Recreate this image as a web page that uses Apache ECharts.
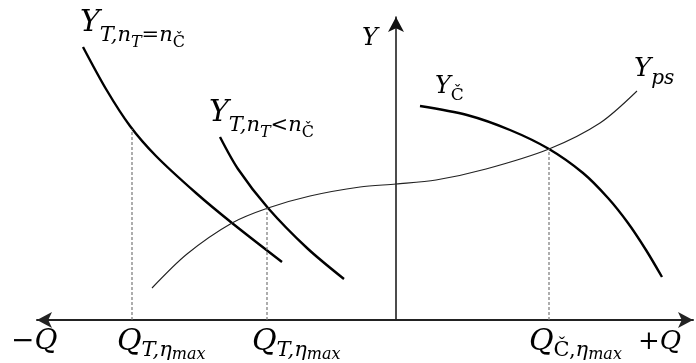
<!DOCTYPE html>
<html>
<head>
<meta charset="utf-8">
<script src="https://cdn.jsdelivr.net/npm/echarts@6/dist/echarts.min.js"></script>
<style>
html, body { margin: 0; padding: 0; background: #fff; }
#chart { width: 696px; height: 363px; }
</style>
</head>
<body>
<div id="chart"></div>
<script>
// curve points (x: flow Q, y: head Y)
var turbineSame = [[-313, 273], [-290, 231], [-266, 194], [-240, 164], [-200, 127], [-164, 97], [-114, 58]];
var turbineLow = [[-176, 183], [-158, 151], [-128, 112], [-89, 72], [-52, 41]];
var systemCurve = [[-244, 32], [-209, 66], [-164, 97], [-128, 112], [-86, 124], [-36, 133], [0, 136], [40, 140], [90, 151], [153, 171], [204, 197], [241, 229]];
var pumpCurve = [[24, 214], [71, 205], [114, 190], [153, 171], [187, 147], [212, 122], [232, 97], [250, 70], [266, 43]];
// dashed drop lines at the best efficiency points
var dropLines = [[-264, 191], [-129, 112], [153, 171]];

var chart = echarts.init(document.getElementById('chart'));

var serif = 'DejaVu Serif';
function rich(main, sub, subsub, p1, p2) {
    return {
        a: { fontFamily: serif, fontStyle: 'italic', fontSize: main, lineHeight: main, verticalAlign: 'top', color: '#000' },
        b: { fontFamily: serif, fontStyle: 'italic', fontSize: sub, lineHeight: sub, verticalAlign: 'top', padding: [p1, 0, 0, 0], color: '#000' },
        s: { fontFamily: serif, fontSize: sub, lineHeight: sub, verticalAlign: 'top', padding: [p1, 0, 0, 0], color: '#000' },
        c: { fontFamily: serif, fontStyle: 'italic', fontSize: subsub, lineHeight: subsub, verticalAlign: 'top', padding: [p2, 0, 0, 0], color: '#000' },
        u: { fontFamily: serif, fontSize: subsub, lineHeight: subsub, verticalAlign: 'top', padding: [p2, 0, 0, 0], color: '#000' }
    };
}
function label(x, y, text, main, sub, subsub, p1, p2) {
    return { type: 'text', x: x, y: y, style: { text: text, rich: rich(main, sub, subsub, p1, p2) } };
}

var series = [
    { data: turbineSame, width: 2.4, color: '#000' },
    { data: turbineLow, width: 2.4, color: '#000' },
    { data: pumpCurve, width: 2.4, color: '#000' },
    { data: systemCurve, width: 1.1, color: '#222' }
].map(function (s) {
    return {
        type: 'line', data: s.data, smooth: 0.3, symbol: 'none', silent: true,
        lineStyle: { width: s.width, color: s.color }
    };
});
dropLines.forEach(function (p) {
    series.push({
        type: 'line', data: [[p[0], 0], p], symbol: 'none', silent: true,
        lineStyle: { width: 1.2, color: '#777', type: [3, 2] }
    });
});

chart.setOption({
    animation: false,
    grid: { left: 37, right: 3, top: 17, bottom: 43 },
    xAxis: {
        type: 'value', min: -359, max: 297,
        axisLine: { onZero: true, symbol: ['arrow', 'arrow'], symbolSize: [12, 15], lineStyle: { color: '#222', width: 2 } },
        axisTick: { show: false }, axisLabel: { show: false }, splitLine: { show: false }
    },
    yAxis: {
        type: 'value', min: 0, max: 303,
        axisLine: { onZero: true, symbol: ['none', 'arrow'], symbolSize: [12, 15], lineStyle: { color: '#111', width: 1.5 } },
        axisTick: { show: false }, axisLabel: { show: false }, splitLine: { show: false }
    },
    series: series,
    graphic: [
        label(80, 8, '{a|Y}{b|T,n}{c|T}{b|=n}{u|Č}', 30, 21, 16, 17, 27),
        label(209, 98, '{a|Y}{b|T,n}{c|T}{b|<n}{u|Č}', 30, 21, 16, 17, 27),
        label(362, 27, '{a|Y}', 24, 17, 13, 12, 17),
        label(435, 75, '{a|Y}{s|Č}', 24, 17, 13, 12, 17),
        label(634, 56, '{a|Y}{b|ps}', 26, 20, 14, 13, 18),
        label(11, 328, '{a|−Q}', 28, 19, 14, 12, 18),
        label(117, 327, '{a|Q}{b|T,η}{c|max}', 30, 21, 16, 13, 20),
        label(252, 327, '{a|Q}{b|T,η}{c|max}', 30, 21, 16, 13, 20),
        label(529, 327, '{a|Q}{s|Č,}{b|η}{c|max}', 30, 21, 16, 13, 20),
        label(638, 329, '{a|+Q}', 26, 19, 14, 12, 18)
    ]
});
</script>
</body>
</html>
